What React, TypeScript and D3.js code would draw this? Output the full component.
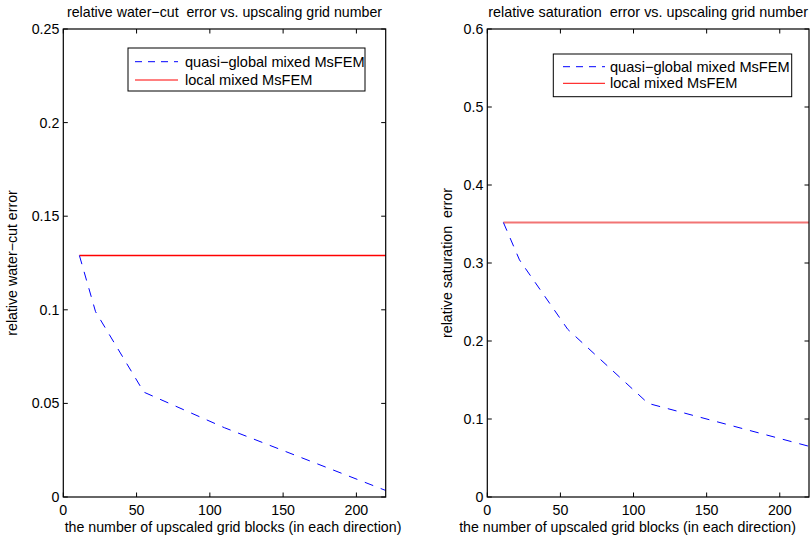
import React from 'react';
import * as d3 from 'd3';

// upscaled grid sizes and the errors
const gridNumbers = [11, 22, 55, 110, 220];
const waterCutQuasi = [0.129, 0.099, 0.056, 0.037, 0.0035];
const waterCutLocal = [0.129, 0.129, 0.129, 0.129, 0.129];
const saturationQuasi = [0.352, 0.304, 0.215, 0.12, 0.065];
const saturationLocal = [0.352, 0.352, 0.352, 0.352, 0.352];

const xTicks = [0, 50, 100, 150, 200];
const waterCutTicks = [0, 0.05, 0.1, 0.15, 0.2, 0.25];
const waterCutTickLabels = ['0', '0.05', '0.1', '0.15', '0.2', '0.25'];
const saturationTicks = [0, 0.1, 0.2, 0.3, 0.4, 0.5, 0.6];
const saturationTickLabels = ['0', '0.1', '0.2', '0.3', '0.4', '0.5', '0.6'];

const legendNames = ['quasi\u2212global mixed MsFEM', 'local mixed MsFEM'];

const FONT = 'Liberation Sans, Arial, sans-serif';
const FS = 14.2;

type PanelProps = {
  left: number;
  right: number;
  title: string;
  titleWidth: number;
  yLabel: string;
  yLabelX: number;
  xLabelX: number;
  yMax: number;
  yTicks: number[];
  yTickLabels: string[];
  quasi: number[];
  local: number[];
  localColor: string;
  localWidth: number;
  legend: { x0: number; y0: number; x1: number; y1: number; row1: number; row2: number; sx0: number; sx1: number; tx: number };
};

function Panel(p: PanelProps) {
  const top = 29;
  const bottom = 497;
  const x = d3.scaleLinear().domain([0, 220]).range([p.left, p.right]);
  const y = d3.scaleLinear().domain([0, p.yMax]).range([bottom, top]);
  const line = d3
    .line<number>()
    .x((d, i) => x(gridNumbers[i]))
    .y((d) => y(d));
  const tl = 4.5;
  const cy = (top + bottom) / 2;

  return (
    <g fontFamily={FONT} fontSize={FS} fill="#000">
      <text
        x={(p.left + p.right) / 2}
        y={17}
        textAnchor="middle"
        fontSize={14.4}
        textLength={p.titleWidth}
        lengthAdjust="spacingAndGlyphs"
        style={{ whiteSpace: 'pre' }}
      >
        {p.title}
      </text>
      <text x={p.xLabelX} y={532} textAnchor="middle">
        the number of upscaled grid blocks (in each direction)
      </text>
      <text
        transform={`translate(${p.yLabelX},${cy}) rotate(-90)`}
        textAnchor="middle"
        dy="0.35em"
        style={{ whiteSpace: 'pre' }}
      >
        {p.yLabel}
      </text>

      {/* ticks */}
      {xTicks.map((t) => (
        <g key={'x' + t}>
          <line x1={x(t)} x2={x(t)} y1={bottom} y2={bottom - tl} stroke="#000" />
          <line x1={x(t)} x2={x(t)} y1={top} y2={top + tl} stroke="#000" />
          <text x={x(t)} y={515} textAnchor="middle">
            {t}
          </text>
        </g>
      ))}
      {p.yTicks.map((t, i) => (
        <g key={'y' + t}>
          <line x1={p.left} x2={p.left + tl} y1={y(t)} y2={y(t)} stroke="#000" />
          <line x1={p.right} x2={p.right - tl} y1={y(t)} y2={y(t)} stroke="#000" />
          <text x={p.left - 4} y={y(t)} dy="0.35em" textAnchor="end">
            {p.yTickLabels[i]}
          </text>
        </g>
      ))}

      <path d={line(p.local) || ''} fill="none" stroke={p.localColor} strokeWidth={p.localWidth} />
      <path d={line(p.quasi) || ''} fill="none" stroke="#0000ff" strokeWidth={1} strokeDasharray="9,8" />

      <rect x={p.left} y={top} width={p.right - p.left} height={bottom - top} fill="none" stroke="#000" strokeWidth={1.2} />

      {/* legend */}
      <rect
        x={p.legend.x0}
        y={p.legend.y0}
        width={p.legend.x1 - p.legend.x0}
        height={p.legend.y1 - p.legend.y0}
        fill="#fff"
        stroke="#000"
        strokeWidth={1}
      />
      <line x1={p.legend.sx0} x2={p.legend.sx1} y1={p.legend.row1} y2={p.legend.row1} stroke="#0000ff" strokeDasharray="7,6" />
      <line x1={p.legend.sx0} x2={p.legend.sx1} y1={p.legend.row2} y2={p.legend.row2} stroke="#ff0000" />
      <text x={p.legend.tx} y={p.legend.row1} dy="0.35em" fontSize={14.6}>
        {legendNames[0]}
      </text>
      <text x={p.legend.tx} y={p.legend.row2} dy="0.35em" fontSize={14.6}>
        {legendNames[1]}
      </text>
    </g>
  );
}

export default function App() {
  return (
    <div style={{ position: 'absolute', left: 0, top: 0, width: 810, height: 542, background: '#fff' }}>
      <svg width={810} height={542}>
        <rect width={810} height={542} fill="#fff" />
        <Panel
          left={63.3}
          right={385.7}
          title={'relative water\u2212cut  error vs. upscaling grid number'}
          titleWidth={315}
          yLabel={'relative water\u2212cut error'}
          yLabelX={12}
          xLabelX={233}
          yMax={0.25}
          yTicks={waterCutTicks}
          yTickLabels={waterCutTickLabels}
          quasi={waterCutQuasi}
          local={waterCutLocal}
          localColor="#ff0000"
          localWidth={1.3}
          legend={{ x0: 128, y0: 48, x1: 365, y1: 91, row1: 61.7, row2: 80, sx0: 135, sx1: 178, tx: 185 }}
        />
        <Panel
          left={487.3}
          right={809}
          title={'relative saturation  error vs. upscaling grid number'}
          titleWidth={320}
          yLabel="relative saturation  error"
          yLabelX={447}
          xLabelX={627.5}
          yMax={0.6}
          yTicks={saturationTicks}
          yTickLabels={saturationTickLabels}
          quasi={saturationQuasi}
          local={saturationLocal}
          localColor="#f27474"
          localWidth={2}
          legend={{ x0: 553.3, y0: 54, x1: 791.7, y1: 96.7, row1: 66.7, row2: 83.3, sx0: 563, sx1: 605, tx: 610 }}
        />
      </svg>
    </div>
  );
}
